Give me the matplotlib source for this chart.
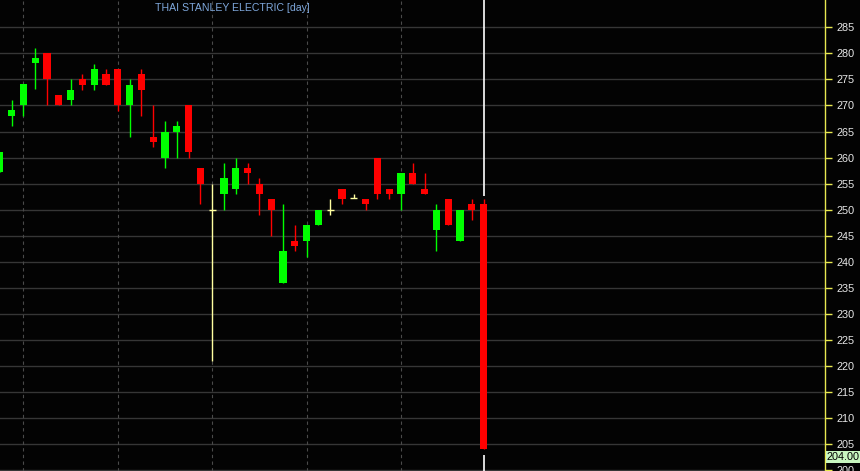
import matplotlib
matplotlib.use("Agg")
import matplotlib.pyplot as plt
import matplotlib.transforms as mtransforms
import numpy as np

plt.rcParams["font.family"] = ["Liberation Sans", "DejaVu Sans"]

title = "THAI STANLEY ELECTRIC [day]"

opens  = [257.2, 268.0, 270.1, 278.2, 280.0, 272.0, 271.0, 275.0, 274.0, 276.0,
          277.0, 270.0, 276.0, 264.0, 260.0, 265.0, 270.0, 258.0, 250.0, 253.0,
          254.0, 258.0, 255.0, 252.0, 236.0, 244.0, 244.0, 247.0, 250.0, 254.0,
          252.2, 252.0, 260.0, 254.0, 253.0, 257.0, 254.0, 246.0, 252.0, 244.0,
          251.0, 251.0]
highs  = [261.1, 271.0, 274.1, 281.0, 280.0, 272.0, 275.0, 276.0, 278.0, 277.0,
          277.0, 275.0, 277.0, 270.0, 267.0, 267.0, 270.0, 258.0, 255.0, 259.0,
          260.0, 259.0, 256.0, 252.0, 251.0, 247.0, 247.0, 250.0, 252.0, 254.0,
          253.0, 252.0, 260.0, 254.0, 257.0, 259.0, 257.0, 251.0, 252.0, 250.0,
          252.0, 252.0]
lows   = [257.2, 266.1, 268.0, 273.2, 270.0, 270.0, 270.0, 273.0, 273.0, 274.0,
          269.0, 264.0, 268.0, 262.0, 258.0, 260.0, 260.0, 251.0, 221.0, 250.0,
          253.0, 255.0, 249.0, 245.0, 236.0, 242.0, 241.0, 247.0, 249.0, 251.0,
          252.2, 250.0, 252.0, 252.0, 250.0, 255.0, 253.0, 242.0, 247.0, 244.0,
          248.0, 204.0]
closes = [261.1, 269.1, 274.1, 279.1, 275.0, 270.0, 273.0, 274.0, 277.0, 274.0,
          270.0, 274.0, 273.0, 263.0, 265.0, 266.0, 261.0, 255.0, 250.0, 256.0,
          258.0, 257.0, 253.0, 250.0, 242.0, 243.0, 247.0, 250.0, 250.0, 252.0,
          252.2, 251.0, 253.0, 253.0, 257.0, 255.0, 253.0, 250.0, 247.0, 250.0,
          250.0, 204.0]
period_marks = [2, 10, 18, 26, 34]
y_ticks = list(range(200, 290, 5))
last_label = "204.00"

W, H = 860, 471
fig = plt.figure(figsize=(W / 100, H / 100), dpi=100, facecolor="#030303")
ax = fig.add_axes([0, 0, 825 / W, 1])
ax.set_facecolor("#030303")

n = len(opens)
x = np.arange(n)
o = np.array(opens); c = np.array(closes); hi = np.array(highs); lo = np.array(lows)

up = c > o
dn = c < o
dj = c == o
green, red, doji = "#00ff00", "#ff0000", "#ffffa0"

# grid
for t in y_ticks:
    ax.axhline(t, color="#363636", lw=1.0, zorder=0)
for m in period_marks:
    ax.axvline(m, color="#4a4a4a", lw=0.8, ls=(0, (3, 3)), zorder=0)

# cursor line at last candle
last = n - 1
ax.vlines(last, hi[last] + 0.7, 300, color="white", lw=1.2, zorder=1)
ax.vlines(last, 150, lo[last] - 1.0, color="white", lw=1.2, zorder=1)

cols = np.where(up, green, np.where(dn, red, doji))
ax.vlines(x, lo, hi, colors=cols, lw=1.0, zorder=2)
bw = 0.6
ax.bar(x[up], (c - o)[up], bottom=o[up], width=bw, color=green, lw=0, zorder=3)
ax.bar(x[dn], (o - c)[dn], bottom=c[dn], width=bw, color=red, lw=0, zorder=3)
ax.hlines(o[dj], x[dj] - bw / 2, x[dj] + bw / 2, colors=doji, lw=1.0, zorder=3)

ax.set_xlim(0.017, 69.93)
ax.set_ylim(199.84, 290.24)

ax.set_xticks([])
ax.yaxis.tick_right()
ax.set_yticks(y_ticks)
ax.set_yticklabels([str(t) for t in y_ticks])
ax.tick_params(axis="y", colors="#e8e850", length=5, width=1, pad=3,
               labelsize=7.8, labelcolor="#e8e8e8", direction="out")
for s in ["left", "top", "bottom"]:
    ax.spines[s].set_visible(False)
ax.spines["right"].set_color("#e8e850")
ax.spines["right"].set_linewidth(1.0)

ax.text(0.188, 0.983, title, transform=ax.transAxes, color="#7fa8dc",
        fontsize=7.6, ha="left", va="center")

trans = mtransforms.blended_transform_factory(ax.transAxes, ax.transData)
ax.text(1.002, c[last] - 1.5, last_label, transform=trans, fontsize=7.8, color="black",
        ha="left", va="center", clip_on=False, zorder=5,
        bbox=dict(boxstyle="square,pad=0.1", facecolor="#c8f7c0", edgecolor="none"))

fig.savefig("out.png", dpi=100, facecolor=fig.get_facecolor())
